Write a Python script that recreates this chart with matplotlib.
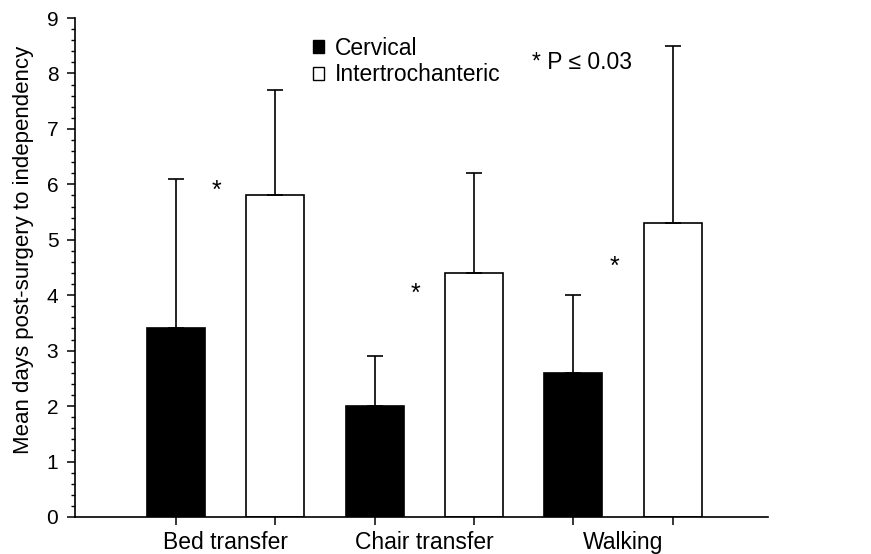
import numpy as np
import matplotlib.pyplot as plt
from matplotlib.patches import Patch
from matplotlib.ticker import MultipleLocator

plt.rcParams['font.family'] = ['Liberation Sans', 'DejaVu Sans']

categories = ['Bed transfer', 'Chair transfer', 'Walking']
cervical = [3.4, 2.0, 2.6]
cervical_sd = [2.7, 0.9, 1.4]
intertroch = [5.8, 4.4, 5.3]
intertroch_sd = [1.9, 1.8, 3.2]
star_y = [5.88, 4.02, 4.52]

fig = plt.figure(figsize=(8.71, 5.54), dpi=100)
ax = fig.add_axes([0.0861, 0.0668, 0.7956, 0.9007])

n = len(categories)
x_c = np.arange(n) * 2
x_i = x_c + 1
w = 0.585

ax.bar(x_c, cervical, w, color='black', edgecolor='black', linewidth=1.2,
       yerr=[np.zeros(n), cervical_sd], capsize=6,
       error_kw=dict(ecolor='black', elinewidth=1.2, capthick=1.2))
ax.bar(x_i, intertroch, w, color='white', edgecolor='black', linewidth=1.2,
       yerr=[np.zeros(n), intertroch_sd], capsize=6,
       error_kw=dict(ecolor='black', elinewidth=1.2, capthick=1.2))

# significance markers
for xc, ys in zip(x_c, star_y):
    ax.text(xc + 0.41, ys, '*', ha='center', va='center', fontsize=18)

ax.set_xlim(-1.017, 5.96)
ax.set_ylim(0, 9)
ax.set_xticks(np.concatenate([x_c, x_i]))
ax.set_xticklabels([])
for xc, lab in zip(x_c, categories):
    ax.text(xc + 0.5, -0.577, lab, ha='center', va='baseline', fontsize=16.5)

ax.yaxis.set_major_locator(MultipleLocator(1))
ax.yaxis.set_minor_locator(MultipleLocator(0.2))
ax.tick_params(axis='y', which='major', length=6, width=1.1, labelsize=15,
               direction='out', pad=6)
ax.tick_params(axis='y', which='minor', length=3, width=1.0, direction='out')
ax.tick_params(axis='x', length=5.5, width=1.1, direction='out')
ax.set_ylabel('Mean days post-surgery to independency', fontsize=16,
              labelpad=9, y=0.535)

for s in ['top', 'right']:
    ax.spines[s].set_visible(False)
for s in ['left', 'bottom']:
    ax.spines[s].set_linewidth(1.2)

handles = [Patch(facecolor='black', edgecolor='black', label='Cervical'),
           Patch(facecolor='white', edgecolor='black', label='Intertrochanteric')]
ax.legend(handles=handles, loc='upper left', bbox_to_anchor=(0.343, 0.962),
          frameon=False, fontsize=16.5, handlelength=0.5, handleheight=0.5,
          handletextpad=0.45, labelspacing=0.15, borderpad=0, borderaxespad=0)

ax.text(0.659, 0.91, '* P ≤ 0.03', transform=ax.transAxes, fontsize=16.5,
        ha='left', va='center')

fig.savefig('out.png', dpi=100)
